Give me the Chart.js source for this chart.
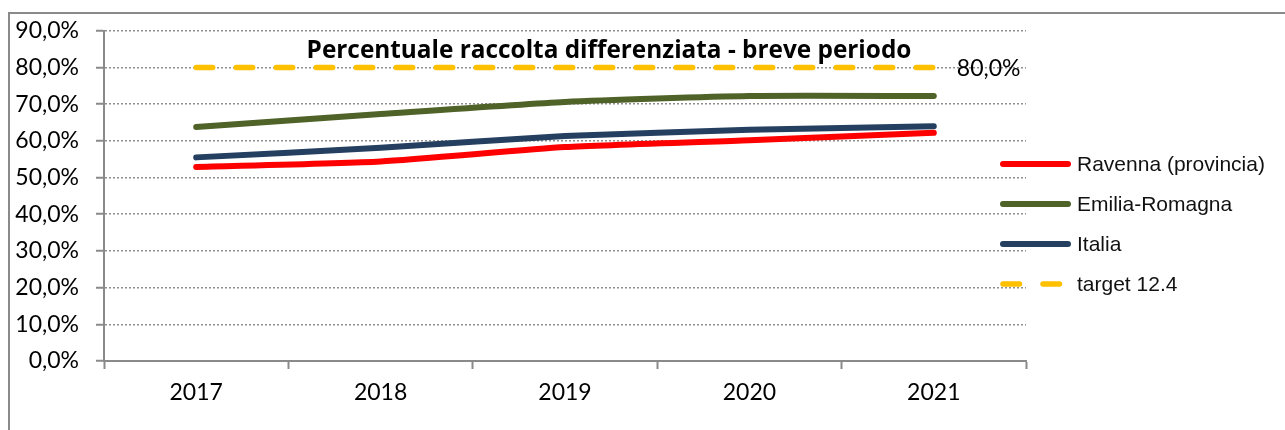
<!DOCTYPE html>
<html>
<head>
<meta charset="utf-8">
<script src="https://cdn.jsdelivr.net/npm/chart.js@4/dist/chart.umd.min.js"></script>
<style>
html,body{margin:0;padding:0;background:#fff;}
#wrap{position:relative;width:1285px;height:430px;}
</style>
</head>
<body>
<div id="wrap"><canvas id="c" width="1285" height="430"></canvas></div>
<script>
const categories = ['2017', '2018', '2019', '2020', '2021'];
const ravenna = [52.9, 54.4, 58.3, 60.2, 62.2];
const emiliaRomagna = [63.8, 67.3, 70.6, 72.2, 72.2];
const italia = [55.5, 58.1, 61.3, 63.0, 64.0];
const target = [80, 80, 80, 80, 80];
const seriesNames = ['Ravenna (provincia)', 'Emilia-Romagna', 'Italia', 'target 12.4'];
const chartTitle = 'Percentuale raccolta differenziata - breve periodo';
const yTickValues = [0, 10, 20, 30, 40, 50, 60, 70, 80, 90];

function fmtPct(v) { return v.toFixed(1).replace('.', ',') + '%'; }

const frame = {
  id: 'frame',
  beforeDraw(chart) {
    const ctx = chart.ctx;
    ctx.save();
    ctx.strokeStyle = '#8a8a8a';
    ctx.lineWidth = 2;
    ctx.strokeRect(9, 13, 2000, 2000);
    ctx.restore();
  }
};

const extras = {
  id: 'extras',
  afterDraw(chart) {
    const ctx = chart.ctx;
    ctx.save();
    // title
    ctx.fillStyle = '#000';
    let size = 22;
    ctx.font = 'bold ' + size + 'px "Open Sans"';
    const w = ctx.measureText(chartTitle).width;
    size = size * 605 / w;
    ctx.font = 'bold ' + size.toFixed(2) + 'px "Open Sans"';
    ctx.textAlign = 'center';
    ctx.textBaseline = 'alphabetic';
    ctx.fillText(chartTitle, 609, 58);
    // data label on last target point
    const meta = chart.getDatasetMeta(3);
    const last = meta.data[meta.data.length - 1];
    ctx.font = '23px Lato';
    ctx.textAlign = 'left';
    ctx.textBaseline = 'middle';
    ctx.fillText(fmtPct(target[target.length - 1]), last.x + 23, last.y + 1);
    // legend
    const ys = [164, 204, 244, 284];
    chart.data.datasets.forEach((ds, i) => {
      ctx.beginPath();
      ctx.strokeStyle = ds.borderColor;
      ctx.lineWidth = ds.borderWidth;
      ctx.lineCap = 'round';
      ctx.setLineDash(ds.borderDash || []);
      ctx.moveTo(1003, ys[i]);
      ctx.lineTo(1068, ys[i]);
      ctx.stroke();
      ctx.setLineDash([]);
      ctx.fillStyle = '#111';
      ctx.font = '21px "Liberation Sans"';
      ctx.textAlign = 'left';
      ctx.textBaseline = 'middle';
      ctx.fillText(ds.label, 1077, ys[i] + 1);
    });
    ctx.restore();
  }
};

new Chart(document.getElementById('c'), {
  type: 'line',
  data: {
    labels: categories,
    datasets: [
      { label: seriesNames[0], data: ravenna, borderColor: '#FF0000', backgroundColor: '#FF0000', borderWidth: 6, borderCapStyle: 'round', tension: 0.2, pointRadius: 0 },
      { label: seriesNames[1], data: emiliaRomagna, borderColor: '#4F6228', backgroundColor: '#4F6228', borderWidth: 6, borderCapStyle: 'round', tension: 0.2, pointRadius: 0 },
      { label: seriesNames[2], data: italia, borderColor: '#243F60', backgroundColor: '#243F60', borderWidth: 6, borderCapStyle: 'round', tension: 0.2, pointRadius: 0 },
      { label: seriesNames[3], data: target, borderColor: '#FFC000', backgroundColor: '#FFC000', borderWidth: 5.5, borderCapStyle: 'round', borderDash: [16.5, 23.5], pointRadius: 0 }
    ]
  },
  options: {
    responsive: false,
    animation: false,
    events: [],
    layout: { padding: { left: 0, right: 259, top: 30, bottom: 0 } },
    plugins: { legend: { display: false }, title: { display: false }, tooltip: { enabled: false } },
    scales: {
      x: {
        type: 'category',
        offset: true,
        afterFit(s) { s.height = 69; },
        grid: { display: true, drawOnChartArea: false, drawTicks: true, offset: true, tickLength: 8, tickColor: '#8a8a8a', tickWidth: 2 },
        border: { display: true, color: '#8a8a8a', width: 2 },
        ticks: { color: '#000', font: { family: 'Lato', size: 23 }, padding: 10, maxRotation: 0 }
      },
      y: {
        min: 0, max: 90,
        afterFit(s) { s.width = 104; },
        afterBuildTicks(s) { s.ticks = yTickValues.map(v => ({ value: v })); },
        grid: { color: '#8f8f8f', lineWidth: 1.5, tickLength: 8, tickColor: '#8a8a8a', tickWidth: 2, tickBorderDash: [] },
        border: { display: true, color: '#8a8a8a', width: 2, dash: [2, 2] },
        ticks: { color: '#000', font: { family: 'Lato', size: 23 }, padding: 17, callback: v => fmtPct(v) }
      }
    }
  },
  plugins: [frame, extras]
});
</script>
</body>
</html>
